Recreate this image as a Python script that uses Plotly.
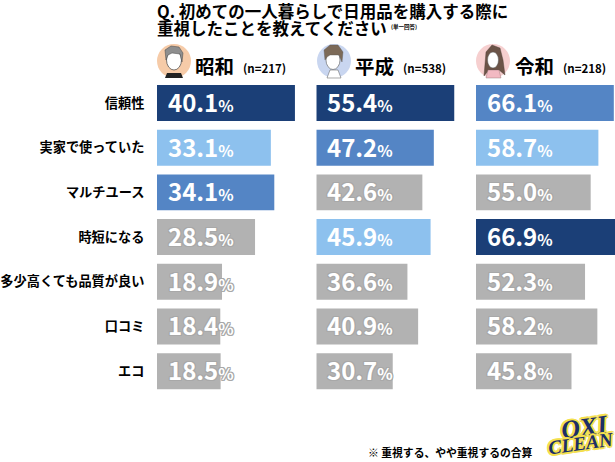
import plotly.graph_objects as go

categories = ["信頼性", "実家で使っていた", "マルチユース", "時短になる", "多少高くても品質が良い", "口コミ", "エコ"]
showa = [40.1, 33.1, 34.1, 28.5, 18.9, 18.4, 18.5]
heisei = [55.4, 47.2, 42.6, 45.9, 36.6, 40.9, 30.7]
reiwa = [66.1, 58.7, 55.0, 66.9, 52.3, 58.2, 45.8]
era_names = ["昭和", "平成", "令和"]
era_counts = ["(n=217)", "(n=538)", "(n=218)"]

W, H = 615, 462
JP = "Noto Sans CJK JP"
NAVY, MID, LIGHT, GREY = "#1B3F77", "#5485C5", "#8DC1EE", "#B2B2B2"
RANK_COLORS = [NAVY, MID, LIGHT]

def px(x):
    return x / W

def py(y):
    return 1 - y / H

def colors_for(values):
    order = sorted(values, reverse=True)
    return [RANK_COLORS[order.index(v)] if order.index(v) < 3 else GREY for v in values]

panels = [
    ("x", showa, 157, 311, 3.44),
    ("x2", heisei, 316.3, 470, 2.49),
    ("x3", reiwa, 476, 615, 2.085),
]

fig = go.Figure()
annotations = []
layout_axes = {}
for i, (axis, vals, left, right, scale) in enumerate(panels):
    cols = colors_for(vals)
    fig.add_trace(go.Bar(
        x=vals, y=categories, orientation="h", xaxis=axis, yaxis="y",
        marker=dict(color=cols, line_width=0), width=0.805,
        hoverinfo="x+y", showlegend=False,
    ))
    name = "xaxis" if axis == "x" else "xaxis" + axis[1:]
    layout_axes[name] = dict(
        domain=[px(left), px(right)], range=[0, (right - left) / scale],
        visible=False, anchor="y", fixedrange=True,
    )
    for cat, v, c in zip(categories, vals, cols):
        font = dict(family=JP, size=24, color="white", weight=900)
        if c == GREY:
            font["shadow"] = ("1px 0 0 #A8A8A8, -1px 0 0 #A8A8A8, 0 1px 0 #A8A8A8, 0 -1px 0 #A8A8A8,"
                              "1px 1px 0 #A8A8A8, -1px -1px 0 #A8A8A8, 1px -1px 0 #A8A8A8, -1px 1px 0 #A8A8A8")
        annotations.append(dict(
            x=0, y=cat, xref=axis, yref="y", xanchor="left", yanchor="middle",
            xshift=9, yshift=1.5, showarrow=False, font=font,
            text=f"<b>{v:.1f}</b><span style='font-size:16px'><b>%</b></span>",
        ))

def note(text, x, y, size, anchor="left", color="black", family=JP, **kw):
    annotations.append(dict(
        x=px(x), y=py(y), xref="paper", yref="paper", xanchor=anchor, yanchor="middle",
        showarrow=False, text=f"<b>{text}</b>",
        font=dict(family=family, size=size, color=color, weight=700, shadow=kw.pop("shadow", "none")),
        **kw,
    ))

note("Q. 初めての一人暮らしで日用品を購入する際に", 154.5, 11, 16.5)
note("重視したことを教えてください", 154.5, 27.5, 16.5)
note("(単一回答)", 389, 27, 5.5)
for name, count, x_name, x_count in zip(era_names, era_counts, [193, 353, 513], [241, 401, 561]):
    note(name, x_name, 65, 19.5)
    note(count, x_count, 68, 11.5)
note("※ 重視する、やや重視するの合算", 366, 452, 10.8)

outline = ",".join(f"{a}px {b}px 0 #F4E04D" for a, b in
                   [(2, 0), (-2, 0), (0, 2), (0, -2), (1.5, 1.5), (-1.5, -1.5), (1.5, -1.5), (-1.5, 1.5)])
note("<i>OXI</i>", 584, 427, 26, anchor="center", color="#1C2F66", family="Liberation Sans Narrow", shadow=outline, textangle=-8)
note("<i>CLEAN</i>", 581, 443, 19.5, anchor="center", color="#1C2F66", family="Liberation Sans Narrow", shadow=outline, textangle=-8)

shapes = []

def circle(cx, cy, rx, ry, fill, line="rgba(0,0,0,0)", lw=0):
    shapes.append(dict(type="circle", xref="paper", yref="paper",
                       x0=px(cx - rx), x1=px(cx + rx), y0=py(cy + ry), y1=py(cy - ry),
                       fillcolor=fill, line=dict(color=line, width=lw), layer="below"))

def poly(points, fill, line="rgba(0,0,0,0)", lw=0):
    d = "M " + " L ".join(f"{px(a):.5f},{py(b):.5f}" for a, b in points) + " Z"
    shapes.append(dict(type="path", xref="paper", yref="paper", path=d, fillcolor=fill,
                       line=dict(color=line, width=lw), layer="below"))

# avatars (decorative portraits)
circle(174, 61, 17, 17, "#F6CBA8")
poly([(165, 78), (183, 78), (181, 73), (167, 73)], "#222222")
circle(174, 60, 7.5, 10, "#FFFFFF", "#444444", 0.7)
poly([(166, 60), (165, 50), (171, 46), (179, 47), (183, 53), (182, 62), (180, 54), (172, 53), (168, 55)], "#8E8E8E", "#444444", 0.5)

circle(334, 61, 17, 17, "#C9D6F0")
poly([(327, 78), (341, 78), (338, 70), (330, 70)], "#FFFFFF", "#555555", 0.5)
circle(333, 60, 7, 9.5, "#FFFFFF", "#555555", 0.6)
poly([(325, 60), (324, 50), (330, 45), (338, 45), (343, 52), (342, 62), (339, 55), (330, 55), (327, 57)], "#7C6A58", "#555555", 0.4)

circle(493, 61, 17, 17, "#F6CFCF")
poly([(484, 76), (486, 52), (492, 45), (500, 48), (503, 60), (505, 75), (499, 70), (489, 70)], "#6B5347", "#4A3A32", 0.4)
poly([(486, 78), (501, 78), (499, 70), (488, 70)], "#F2B9C2", "#8A6A6A", 0.4)
circle(493, 60, 5.5, 8, "#FFFFFF", "#555555", 0.5)

fig.update_layout(
    width=W, height=H, margin=dict(l=0, r=0, t=0, b=0),
    paper_bgcolor="white", plot_bgcolor="white",
    yaxis=dict(
        domain=[py(393.5), py(80.65)], categoryorder="array", categoryarray=categories,
        autorange="reversed", anchor="x", showline=False, showgrid=False, zeroline=False,
        ticks="outside", ticklen=9, tickcolor="rgba(0,0,0,0)", tickwidth=0,
        tickfont=dict(family=JP, size=13.2, color="black", weight=700), fixedrange=True,
    ),
    annotations=annotations, shapes=shapes, **layout_axes,
)
fig.write_html("out.html", config=dict(displayModeBar=False),
               post_script="document.body.style.margin='0';document.documentElement.style.overflow='hidden';")
